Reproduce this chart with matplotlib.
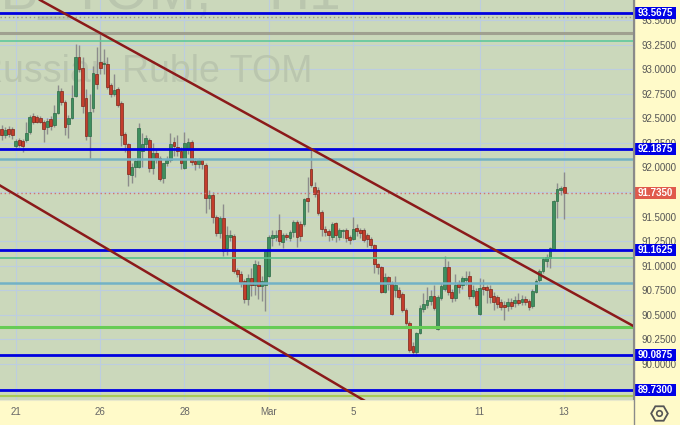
import numpy as np
import matplotlib.pyplot as plt
from matplotlib.patches import Rectangle
from matplotlib.lines import Line2D
from matplotlib.transforms import blended_transform_factory

plt.rcParams['font.family'] = ['Liberation Sans', 'DejaVu Sans']

# hourly candles, USDRUB_TOM
opens = [92.39, 92.33, 92.39, 92.39, 92.22, 92.28, 92.27, 92.28, 92.36, 92.52,
         92.51, 92.50, 92.46, 92.41, 92.49, 92.43, 92.55, 92.78, 92.67, 92.44,
         92.50, 92.73, 93.12, 93.01, 92.71, 92.32, 92.60, 92.95, 93.07, 93.05,
         93.05, 92.84, 92.75, 92.80, 92.66, 92.34, 92.24, 91.92, 92.00, 92.00,
         92.17, 92.24, 92.28, 91.99, 92.15, 92.10, 91.89, 92.04, 92.08, 92.26,
         92.21, 92.17, 91.99, 92.19, 92.26, 92.07, 92.03, 92.08, 92.02, 91.69,
         91.72, 91.50, 91.33, 91.49, 91.18, 91.29, 91.30, 90.96, 90.92, 90.84,
         90.66, 90.87, 90.80, 91.01, 90.79, 90.80, 90.89, 91.28, 91.29, 91.36,
         91.24, 91.31, 91.28, 91.34, 91.44, 91.42, 91.42, 91.69, 91.98, 91.80,
         91.77, 91.55, 91.37, 91.35, 91.29, 91.43, 91.29, 91.35, 91.36, 91.29,
         91.27, 91.38, 91.36, 91.36, 91.31, 91.27, 91.21, 91.02, 90.99, 90.73,
         90.88, 90.81, 90.75, 90.75, 90.71, 90.55, 90.42, 90.18, 90.12, 90.31,
         90.56, 90.60, 90.64, 90.69, 90.36, 90.67, 90.76, 90.99, 90.73, 90.67,
         90.81, 90.80, 90.85, 90.90, 90.69, 90.74, 90.51, 90.78, 90.78, 90.76,
         90.69, 90.68, 90.63, 90.60, 90.59, 90.63, 90.62, 90.65, 90.63, 90.66,
         90.64, 90.59, 90.73, 90.85, 90.95, 91.05, 91.08, 91.17, 91.66, 91.77,
         91.80]
highs = [92.43, 92.41, 92.42, 92.41, 92.29, 92.30, 92.29, 92.46, 92.53, 92.55,
         92.53, 92.52, 92.48, 92.50, 92.52, 92.64, 92.84, 92.81, 92.69, 92.53,
         92.84, 93.26, 93.25, 93.12, 92.80, 92.75, 93.03, 93.23, 93.36, 93.21,
         93.12, 92.86, 92.95, 92.82, 92.68, 92.36, 92.25, 92.05, 92.10, 92.45,
         92.35, 92.33, 92.30, 92.25, 92.19, 92.12, 92.05, 92.12, 92.35, 92.31,
         92.33, 92.21, 92.36, 92.30, 92.28, 92.10, 92.10, 92.09, 92.04, 91.77,
         91.75, 91.52, 91.51, 91.63, 91.40, 91.36, 91.32, 90.98, 90.95, 90.86,
         90.92, 90.98, 91.06, 91.05, 90.90, 91.16, 91.31, 91.36, 91.36, 91.53,
         91.33, 91.33, 91.36, 91.46, 91.47, 91.45, 91.69, 91.90, 92.19, 91.85,
         91.80, 91.57, 91.40, 91.37, 91.44, 91.44, 91.38, 91.37, 91.38, 91.31,
         91.50, 91.42, 91.38, 91.38, 91.33, 91.29, 91.22, 91.03, 91.00, 90.93,
         90.90, 90.84, 90.90, 90.78, 90.73, 90.57, 90.44, 90.22, 90.33, 90.60,
         90.72, 90.78, 90.75, 90.80, 90.70, 90.82, 91.10, 91.05, 90.76, 90.92,
         90.85, 90.90, 90.95, 90.95, 90.80, 90.77, 90.87, 90.86, 90.80, 90.80,
         90.73, 90.70, 90.66, 90.64, 90.67, 90.67, 90.69, 90.72, 90.70, 90.69,
         90.66, 90.76, 90.86, 90.97, 91.09, 91.12, 91.19, 91.67, 91.84, 91.81,
         91.95]
lows = [92.28, 92.30, 92.31, 92.29, 92.20, 92.21, 92.16, 92.26, 92.34, 92.44,
        92.45, 92.45, 92.26, 92.34, 92.38, 92.41, 92.54, 92.64, 92.33, 92.30,
        92.49, 92.72, 92.97, 92.55, 92.28, 92.09, 92.56, 92.80, 92.95, 92.95,
        92.80, 92.72, 92.73, 92.61, 92.22, 92.16, 91.81, 91.84, 91.90, 91.99,
        92.00, 92.20, 91.95, 91.93, 92.05, 91.86, 91.84, 92.01, 92.06, 92.12,
        92.12, 91.98, 91.98, 92.14, 92.02, 91.97, 91.99, 91.98, 91.54, 91.58,
        91.43, 91.30, 91.28, 91.10, 91.11, 91.25, 90.93, 90.88, 90.78, 90.62,
        90.60, 90.69, 90.70, 90.66, 90.64, 90.54, 90.88, 91.20, 91.25, 91.21,
        91.18, 91.26, 91.25, 91.29, 91.19, 91.25, 91.40, 91.55, 91.80, 91.70,
        91.52, 91.30, 91.30, 91.25, 91.26, 91.24, 91.26, 91.28, 91.24, 91.22,
        91.26, 91.30, 91.28, 91.24, 91.19, 91.18, 90.93, 90.92, 90.72, 90.72,
        90.75, 90.50, 90.68, 90.66, 90.53, 90.40, 90.12, 90.10, 90.08, 90.30,
        90.53, 90.57, 90.60, 90.55, 90.35, 90.65, 90.74, 90.70, 90.63, 90.64,
        90.72, 90.76, 90.80, 90.66, 90.67, 90.58, 90.50, 90.70, 90.62, 90.62,
        90.55, 90.57, 90.55, 90.45, 90.54, 90.56, 90.58, 90.60, 90.60, 90.60,
        90.55, 90.57, 90.72, 90.83, 90.93, 90.99, 90.98, 91.16, 91.49, 91.72,
        91.48]
closes = [92.33, 92.38, 92.34, 92.33, 92.27, 92.23, 92.22, 92.35, 92.51, 92.46,
          92.46, 92.46, 92.39, 92.47, 92.42, 92.55, 92.78, 92.67, 92.41, 92.50,
          92.71, 93.12, 93.00, 92.63, 92.32, 92.56, 92.96, 92.85, 93.01, 93.06,
          92.82, 92.75, 92.79, 92.64, 92.33, 92.24, 91.93, 92.00, 92.07, 92.40,
          92.24, 92.30, 91.99, 92.15, 92.10, 91.88, 92.04, 92.08, 92.24, 92.22,
          92.17, 92.04, 92.25, 92.26, 92.06, 92.03, 92.08, 92.03, 91.69, 91.72,
          91.50, 91.33, 91.49, 91.15, 91.31, 91.31, 90.95, 90.92, 90.83, 90.66,
          90.87, 90.80, 91.02, 90.79, 90.84, 91.15, 91.29, 91.31, 91.31, 91.25,
          91.31, 91.29, 91.34, 91.44, 91.29, 91.30, 91.68, 91.66, 91.82, 91.73,
          91.54, 91.37, 91.34, 91.31, 91.42, 91.31, 91.36, 91.36, 91.28, 91.26,
          91.37, 91.35, 91.33, 91.26, 91.27, 91.21, 91.02, 90.99, 90.73, 90.88,
          90.81, 90.51, 90.80, 90.68, 90.55, 90.42, 90.14, 90.12, 90.31, 90.57,
          90.61, 90.65, 90.69, 90.57, 90.68, 90.79, 90.99, 90.73, 90.67, 90.80,
          90.78, 90.87, 90.87, 90.69, 90.75, 90.60, 90.77, 90.76, 90.75, 90.68,
          90.63, 90.61, 90.58, 90.58, 90.63, 90.59, 90.65, 90.62, 90.66, 90.63,
          90.58, 90.74, 90.84, 90.95, 91.07, 91.09, 91.18, 91.66, 91.78, 91.79,
          91.735]

day_ticks = [4, 28, 52, 76, 100, 136, 160]
day_labels = ['21', '26', '28', 'Mar', '5', '11', '13']
price_ticks = [89.75, 90.0, 90.25, 90.5, 90.75, 91.0, 91.25, 91.5,
               91.75, 92.0, 92.25, 92.5, 92.75, 93.0, 93.25, 93.5]

blue_levels = [93.5675, 92.1875, 91.1625, 90.0875, 89.73]
last_price = 91.735
other_levels = [93.53, 93.37, 93.29, 92.09, 91.08, 90.82, 90.38, 89.67]

upper_trend_x = [10.9, 179.6]
upper_trend_y = [93.704, 90.388]
lower_trend_x = [-0.48, 103.4]
lower_trend_y = [91.816, 89.622]

fig = plt.figure(figsize=(6.8, 4.25), dpi=100, facecolor='#fffac9')
ax = fig.add_axes([0, 25 / 425, 633 / 680, 400 / 425])
ax.set_facecolor('#cbd8bb')

# watermark
wm = '#bac6ae'
ax.text(312 / 633, (400 - 82) / 400, 'Russian Ruble TOM', transform=ax.transAxes,
        ha='right', va='baseline', fontsize=27, color=wm, zorder=1)
ax.text(212 / 633, (400 - 9) / 400, 'USDRUB_TOM,', transform=ax.transAxes,
        ha='right', va='baseline', fontsize=41, color=wm, zorder=1)
ax.text(268 / 633, (400 - 9) / 400, 'H1', transform=ax.transAxes,
        ha='left', va='baseline', fontsize=41, color=wm, zorder=1)

# candles
x = np.arange(len(opens))
o = np.array(opens)
h = np.array(highs)
l = np.array(lows)
c = np.array(closes)
up = c >= o
ax.vlines(x, l, h, color='#8c8c8c', lw=1, zorder=3)
bottom = np.minimum(o, c)
height = np.maximum(np.abs(c - o), 0.012)
ax.bar(x[up], height[up], bottom=bottom[up], width=0.8, color='#3f8f5f',
       edgecolor='#2b6b45', lw=0.5, zorder=4)
ax.bar(x[~up], height[~up], bottom=bottom[~up], width=0.8, color='#c43d2c',
       edgecolor='#7d2518', lw=0.5, zorder=4)

# horizontal levels
level_styles = [
    dict(color='#9a9a8a', lw=1, ls=(0, (1, 2))),
    dict(color='#a0a090', lw=2.2),
    dict(color='#5fc89c', lw=1.2),
    dict(color='#72b2c6', lw=1.8),
    dict(color='#55c08e', lw=1.2),
    dict(color='#72b2c6', lw=1.8),
    dict(color='#66cc55', lw=2.2),
    dict(color='#a8c858', lw=1.5),
]
for lvl, st in zip(other_levels, level_styles):
    ax.axhline(lvl, zorder=5, **st)
for lvl in blue_levels:
    ax.axhline(lvl, color='#0000e0', lw=2, zorder=6)
ax.axhline(last_price, color='#d27070', lw=1, ls=(0, (1, 2)), zorder=5)

# trend channel
ax.plot(upper_trend_x, upper_trend_y, color='#8b1a1a', lw=1.8, zorder=7)
ax.plot(lower_trend_x, lower_trend_y, color='#8b1a1a', lw=1.8, zorder=7)

ax.set_xlim(-0.48, 179.6)
ax.set_ylim(89.633, 93.704)

ax.yaxis.tick_right()
ax.set_yticks(price_ticks)
ax.set_yticklabels(['%.4f' % v for v in price_ticks])
ax.tick_params(axis='y', length=0, pad=6, labelsize=7, labelcolor='#555555')
ax.set_xticks(day_ticks)
ax.set_xticklabels(day_labels)
ax.tick_params(axis='x', length=0, pad=5, labelsize=7, labelcolor='#666666')
ax.grid(color='#bccde0', lw=0.8)
ax.set_axisbelow(True)

for s in ['top', 'left']:
    ax.spines[s].set_visible(False)
ax.spines['right'].set_color('#8a8a8a')
ax.spines['bottom'].set_color('#e8e8cc')

# price boxes on the scale
trans = blended_transform_factory(ax.transAxes, ax.transData)
box_h = 12 / 98.25
for lvl in blue_levels:
    ax.add_patch(Rectangle((634 / 633, lvl - box_h / 2), 42 / 633, box_h,
                           transform=trans, fc='#0000e6', ec='none',
                           clip_on=False, zorder=10))
    ax.text(655 / 633, lvl, '%.4f' % lvl, transform=trans, ha='center',
            va='center', color='white', fontsize=7, fontweight='bold',
            clip_on=False, zorder=11)
ax.add_patch(Rectangle((634 / 633, last_price - box_h / 2), 42 / 633, box_h,
                       transform=trans, fc='#e05a4c', ec='none',
                       clip_on=False, zorder=10))
ax.text(655 / 633, last_price, '%.4f' % last_price, transform=trans,
        ha='center', va='center', color='white', fontsize=7,
        fontweight='bold', clip_on=False, zorder=11)

fig.add_artist(Line2D([633.5 / 680] * 2, [0, 1], transform=fig.transFigure,
                      color='#8a8a8a', lw=1))
fig.add_artist(Line2D([658.5 / 680], [1 - 412.5 / 425], marker='H', ms=12,
                      mfc='none', mec='#555555', mew=1.3, ls='none',
                      transform=fig.transFigure))
fig.add_artist(Line2D([658.5 / 680], [1 - 412.5 / 425], marker='o', ms=4,
                      mfc='none', mec='#555555', mew=1.2, ls='none',
                      transform=fig.transFigure))

fig.savefig('out.png', dpi=100, facecolor=fig.get_facecolor())
